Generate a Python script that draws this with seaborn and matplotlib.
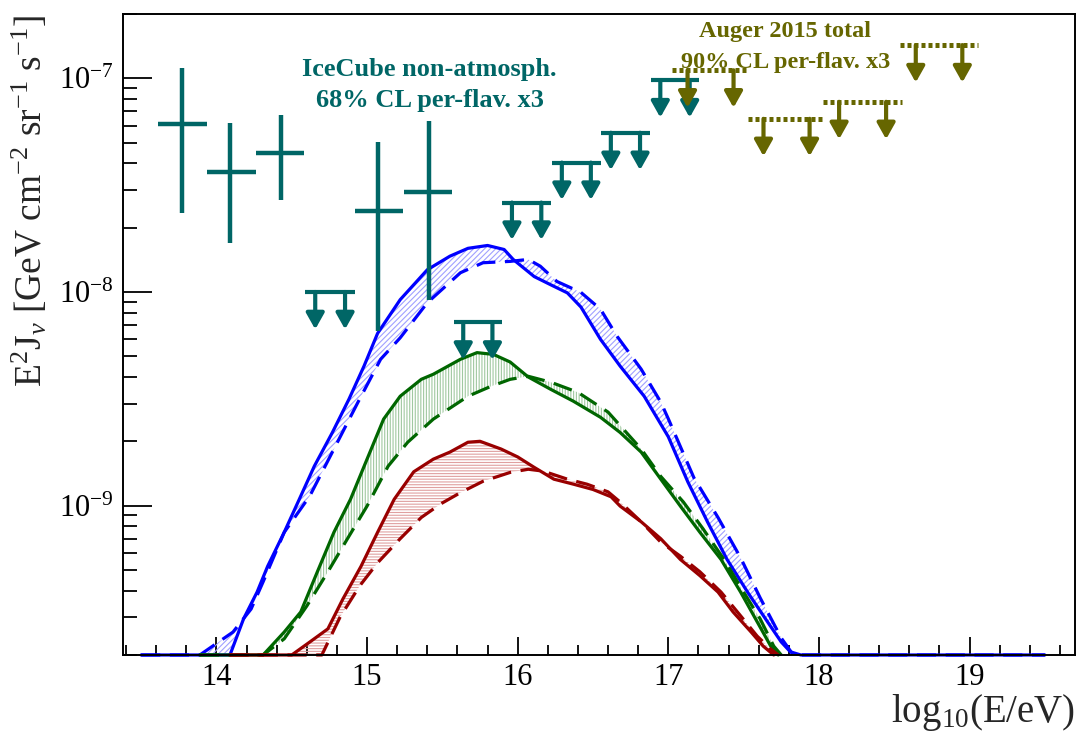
import numpy as np
import matplotlib
matplotlib.use("Agg")
import matplotlib.pyplot as plt
from matplotlib.ticker import MultipleLocator, FixedLocator, LogLocator, NullFormatter
import seaborn as sns

# model curves: log10(E/eV) and E^2 J [GeV cm^-2 sr^-1 s^-1]
blue_solid_x = [13.50, 14.09, 14.18, 14.27, 14.34, 14.45, 14.55, 14.65, 14.77, 14.88, 14.98, 15.07,
                15.22, 15.40, 15.55, 15.67, 15.80, 15.91, 15.97, 16.11, 16.22, 16.33, 16.42, 16.55,
                16.68, 16.84, 17.00, 17.13, 17.26, 17.39, 17.53, 17.66, 17.75, 17.81, 17.88, 19.50]
blue_solid_y = [2.0e-10, 2.0e-10, 2.95e-10, 3.94e-10, 5.2e-10, 7.5e-10, 1.07e-9, 1.53e-9, 2.2e-9,
                3.15e-9, 4.5e-9, 6.4e-9, 9.2e-9, 1.27e-8, 1.47e-8, 1.60e-8, 1.65e-8, 1.58e-8, 1.42e-8,
                1.18e-8, 1.08e-8, 9.9e-9, 8.5e-9, 6.0e-9, 4.5e-9, 3.25e-9, 2.1e-9, 1.29e-9, 8.4e-10,
                5.6e-10, 3.9e-10, 2.85e-10, 2.3e-10, 2.07e-10, 2.0e-10, 2.0e-10]
blue_dash_x = [13.50, 13.89, 14.11, 14.23, 14.31, 14.45, 14.62, 14.78, 14.94, 15.09, 15.22, 15.40,
               15.62, 15.77, 15.95, 16.07, 16.15, 16.26, 16.42, 16.55, 16.66, 16.82, 16.95, 17.00,
               17.17, 17.33, 17.48, 17.61, 17.75, 17.83, 19.50]
blue_dash_y = [2.0e-10, 2.0e-10, 2.56e-10, 3.28e-10, 4.4e-10, 7.5e-10, 1.11e-9, 1.84e-9, 3.05e-9,
               4.84e-9, 6.1e-9, 8.9e-9, 1.23e-8, 1.37e-8, 1.39e-8, 1.42e-8, 1.32e-8, 1.12e-8, 9.95e-9,
               8.3e-9, 6.2e-9, 4.35e-9, 3.05e-9, 2.55e-9, 1.35e-9, 8.8e-10, 5.7e-10, 3.7e-10, 2.4e-10,
               2.0e-10, 2.0e-10]

green_solid_x = [13.89, 14.31, 14.45, 14.56, 14.67, 14.78, 14.89, 15.00, 15.11, 15.22, 15.36, 15.44,
                 15.62, 15.73, 15.84, 15.95, 16.07, 16.22, 16.37, 16.55, 16.68, 16.82, 16.95, 17.08,
                 17.21, 17.35, 17.48, 17.59, 17.68, 17.73]
green_solid_y = [2.0e-10, 2.0e-10, 2.56e-10, 3.18e-10, 4.9e-10, 7.5e-10, 1.07e-9, 1.65e-9, 2.54e-9,
                 3.25e-9, 3.9e-9, 4.12e-9, 4.84e-9, 5.2e-9, 5.1e-9, 4.7e-9, 4.0e-9, 3.5e-9, 3.08e-9,
                 2.59e-9, 2.2e-9, 1.78e-9, 1.33e-9, 9.95e-10, 7.5e-10, 5.6e-10, 3.94e-10, 2.86e-10,
                 2.2e-10, 2.0e-10]
green_dash_x = [13.89, 14.31, 14.45, 14.60, 14.74, 14.87, 15.00, 15.14, 15.27, 15.44, 15.67, 15.82,
                15.95, 16.07, 16.22, 16.40, 16.60, 16.82, 16.95, 17.10, 17.23, 17.37, 17.50, 17.61,
                17.70, 17.75]
green_dash_y = [2.0e-10, 2.0e-10, 2.38e-10, 3.39e-10, 4.9e-10, 7.0e-10, 9.95e-10, 1.53e-9, 1.98e-9,
                2.54e-9, 3.25e-9, 3.61e-9, 3.9e-9, 4.03e-9, 3.78e-9, 3.39e-9, 2.74e-9, 1.84e-9,
                1.37e-9, 1.04e-9, 7.8e-10, 5.6e-10, 3.94e-10, 2.95e-10, 2.2e-10, 2.0e-10]

red_solid_x = [14.09, 14.50, 14.62, 14.74, 14.84, 14.96, 15.07, 15.18, 15.31, 15.44, 15.55, 15.67,
               15.75, 15.89, 16.00, 16.11, 16.24, 16.37, 16.50, 16.62, 16.68, 16.82, 16.95, 17.08,
               17.21, 17.33, 17.43, 17.55, 17.63, 17.70]
red_solid_y = [2.0e-10, 2.0e-10, 2.3e-10, 2.65e-10, 3.66e-10, 5.2e-10, 7.5e-10, 1.07e-9, 1.44e-9,
               1.65e-9, 1.78e-9, 1.98e-9, 2.0e-9, 1.84e-9, 1.69e-9, 1.51e-9, 1.33e-9, 1.26e-9,
               1.19e-9, 1.10e-9, 9.95e-10, 8.4e-10, 7.0e-10, 5.6e-10, 4.7e-10, 3.94e-10, 3.18e-10,
               2.56e-10, 2.2e-10, 2.0e-10]
red_dash_x = [14.09, 14.70, 14.82, 14.95, 15.07, 15.22, 15.36, 15.49, 15.62, 15.77, 15.95, 16.07,
              16.17, 16.33, 16.46, 16.60, 16.68, 16.82, 16.95, 17.08, 17.21, 17.35, 17.48, 17.59,
              17.68, 17.73]
red_dash_y = [2.0e-10, 2.0e-10, 3.0e-10, 4.2e-10, 5.4e-10, 7.0e-10, 8.8e-10, 1.02e-9, 1.15e-9,
              1.30e-9, 1.43e-9, 1.48e-9, 1.45e-9, 1.33e-9, 1.26e-9, 1.16e-9, 1.04e-9, 8.4e-10,
              6.75e-10, 5.8e-10, 4.9e-10, 3.94e-10, 3.05e-10, 2.45e-10, 2.13e-10, 2.0e-10]

# IceCube points (bin edges, value, error range)
ic_lo = [13.615, 13.94, 14.26, 14.923, 15.248]
ic_hi = [13.94, 14.26, 14.58, 15.242, 15.567]
ic_x = [13.772, 14.09, 14.43, 15.07, 15.41]
ic_y = [6.1e-8, 3.66e-8, 4.47e-8, 2.4e-8, 2.94e-8]
ic_ylo = [2.35e-8, 1.7e-8, 2.68e-8, 6.56e-9, 9.2e-9]
ic_yhi = [1.12e-7, 6.17e-8, 6.74e-8, 5.04e-8, 6.3e-8]

# IceCube upper limits
icul_lo = [14.59, 15.574, 15.897, 16.229, 16.554, 16.882]
icul_hi = [14.92, 15.897, 16.222, 16.550, 16.877, 17.207]
icul_y = [1.0e-8, 7.2e-9, 2.62e-8, 4.03e-8, 5.56e-8, 9.8e-8]

# Auger upper limits
aug_lo = [17.026, 17.53, 18.03, 18.54]
aug_hi = [17.535, 18.04, 18.55, 19.055]
aug_y = [1.09e-7, 6.46e-8, 7.76e-8, 1.43e-7]

y_major = [1e-9, 1e-8, 1e-7]

TEAL = '#006666'
OLIVE = '#666600'

sns.set_theme(style="white")
plt.rcParams['font.family'] = ['Liberation Serif', 'DejaVu Serif']
plt.rcParams['mathtext.fontset'] = 'custom'
plt.rcParams['mathtext.rm'] = 'Liberation Serif'
plt.rcParams['mathtext.it'] = 'Liberation Serif:italic'
plt.rcParams['mathtext.bf'] = 'Liberation Serif:bold'
plt.rcParams['hatch.linewidth'] = 0.8

fig = plt.figure(figsize=(10.83, 7.5), dpi=100)
ax = fig.add_axes([0.1136, 0.1267, 0.879, 0.8547])
ax.set_yscale('log')


def draw_band(xs, ys, xd, yd, color, hcolor, hatch):
    xs, ys, xd, yd = map(np.asarray, (xs, ys, xd, yd))
    ax.fill(np.concatenate([xs, xd[::-1]]), np.concatenate([ys, yd[::-1]]),
            facecolor='none', edgecolor=hcolor, hatch=hatch, linewidth=0)
    sns.lineplot(x=xs, y=ys, color=color, lw=2.3, ax=ax, sort=False, clip_on=False)
    sns.lineplot(x=xd, y=yd, color=color, lw=2.3, linestyle=(0, (6, 3)), ax=ax, sort=False,
                 clip_on=False)


draw_band(blue_solid_x, blue_solid_y, blue_dash_x, blue_dash_y, '#0000ff', '#a0a0ff', '//////')
draw_band(green_solid_x, green_solid_y, green_dash_x, green_dash_y, '#006600', '#a0c8a0', '||||||')
draw_band(red_solid_x, red_solid_y, red_dash_x, red_dash_y, '#990000', '#e0a0a0', '------')

# IceCube crosses
ic_x_a = np.array(ic_x)
ic_y_a = np.array(ic_y)
ax.errorbar(ic_x_a, ic_y_a,
            xerr=[ic_x_a - np.array(ic_lo), np.array(ic_hi) - ic_x_a],
            yerr=[ic_y_a - np.array(ic_ylo), np.array(ic_yhi) - ic_y_a],
            fmt='none', ecolor=TEAL, elinewidth=3.2, capsize=0)

arrow_drop = 10 ** 0.175


def upper_limits(lo, hi, vals, color, dotted):
    for a, b, v in zip(lo, hi, vals):
        if dotted:
            ax.hlines(v, a, b, colors=color, lw=3.6, linestyles=(0, (0.8, 0.6)))
        else:
            ax.hlines(v, a, b, colors=color, lw=3.0)
        for xa in (a + 0.2 * (b - a), a + 0.8 * (b - a)):
            ax.annotate('', xy=(xa, v / arrow_drop), xytext=(xa, v),
                        arrowprops=dict(arrowstyle='-|>,head_length=0.8,head_width=0.45',
                                        color=color, lw=3.0, shrinkA=0, shrinkB=0,
                                        mutation_scale=12))


upper_limits(icul_lo, icul_hi, icul_y, TEAL, False)
upper_limits(aug_lo, aug_hi, aug_y, OLIVE, True)

ax.set_xlim(13.38, 19.70)
ax.set_ylim(2e-10, 2e-7)
ax.xaxis.set_major_locator(MultipleLocator(1))
ax.xaxis.set_minor_locator(MultipleLocator(0.2))
ax.yaxis.set_major_locator(FixedLocator(y_major))
ax.yaxis.set_minor_locator(LogLocator(base=10, subs=np.arange(2, 10)))
ax.yaxis.set_minor_formatter(NullFormatter())
ax.tick_params(axis='both', which='both', direction='in', top=False, right=False,
               bottom=True, left=True, colors='black', labelsize=22)
ax.tick_params(axis='x', which='major', length=13, width=1.3, pad=6)
ax.tick_params(axis='x', which='minor', length=7, width=1.3)
ax.tick_params(axis='y', which='major', length=21, width=1.3, pad=7)
ax.tick_params(axis='y', which='minor', length=10, width=1.3)
for sp in ax.spines.values():
    sp.set_color('black')
    sp.set_linewidth(1.4)
ax.set_xlabel(None)
ax.set_ylabel(None)

fig.text(0.009, 0.98, r'E$^{2}$J$_{\nu}$ [GeV cm$^{-2}$ sr$^{-1}$ s$^{-1}$]', rotation=90,
         ha='left', va='top', fontsize=27)
fig.text(0.9926, 1 - 722 / 750, r'log$_{10}$(E/eV)', ha='right', va='baseline', fontsize=28)

fig.text(429.5 / 1083, 1 - 76 / 750, 'IceCube non-atmosph.', ha='center', va='baseline',
         fontsize=19, fontweight='bold', color=TEAL)
fig.text(430 / 1083, 1 - 107 / 750, '68% CL per-flav. x3', ha='center', va='baseline',
         fontsize=19, fontweight='bold', color=TEAL)
fig.text(785 / 1083, 1 - 37 / 750, 'Auger 2015 total', ha='center', va='baseline',
         fontsize=17.5, fontweight='bold', color=OLIVE)
fig.text(786 / 1083, 1 - 68 / 750, '90% CL per-flav. x3', ha='center', va='baseline',
         fontsize=17.5, fontweight='bold', color=OLIVE)

fig.savefig('out.png', dpi=100, facecolor='white')
